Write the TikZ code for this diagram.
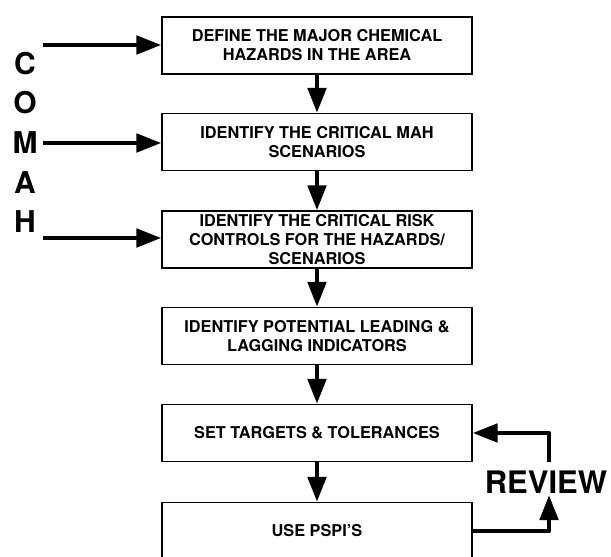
\documentclass[tikz,border=0pt]{standalone}
\usepackage{fontspec}
\setmainfont{TeX Gyre Heros}
\usepackage{tikz}
\usetikzlibrary{positioning,calc}
\usetikzlibrary{arrows.meta}
\tikzstyle{stage} = [rectangle, minimum width=310pt, minimum height=57pt, text centered, align=center, draw=black, line width=1.2pt, font=\fontsize{16.3}{19}\selectfont\bfseries]
\tikzstyle{letter} = [inner sep=0pt, font=\fontsize{30}{30}\selectfont\bfseries]
\tikzstyle{arrow} = [line width=4.8pt, line join=round, -{Triangle[length=25pt,width=18pt]}]

\begin{document}
\begin{tikzpicture}[x=1pt,y=-1pt]
							\clip (0,0) rectangle (611,557);
							\node (define) at (317,45.5) [stage] {DEFINE THE MAJOR CHEMICAL\\HAZARDS IN THE AREA};
							\node (scen) at (317,142) [stage] {IDENTIFY THE CRITICAL MAH\\SCENARIOS};
							\node (controls) at (317,239.5) [stage] {IDENTIFY THE CRITICAL RISK\\CONTROLS FOR THE HAZARDS/\\SCENARIOS};
							\node (indic) at (317,336) [stage] {IDENTIFY POTENTIAL LEADING \&\\LAGGING INDICATORS};
							\node (targets) at (317,433) [stage] {SET TARGETS \& TOLERANCES};
							\node (use) at (317,531) [stage] {USE PSPI'S};
							\draw[arrow] (define) -- (scen);
							\draw[arrow] (scen) -- (controls);
							\draw[arrow] (controls) -- (indic);
							\draw[arrow] (indic) -- (targets);
							\draw[arrow] (targets) -- (use);
							% COMAH down the left side
							\node (lc) at (25,64) [letter] {C};
							\node (lo) at (25,103) [letter] {O};
							\node (lm) at (25,143) [letter] {M};
							\node (la) at (25,183) [letter] {A};
							\node (lh) at (25,222) [letter] {H};
							\coordinate (in1) at (43,45);
							\coordinate (in2) at (43,143);
							\coordinate (in3) at (43,238);
							\draw[arrow] (in1) -- (in1 -| define.west);
							\draw[arrow] (in2) -- (in2 -| scen.west);
							\draw[arrow] (in3) -- (in3 -| controls.west);
							% review loop
							\node[inner sep=0pt, font=\fontsize{31}{31}\selectfont\bfseries] (review) at (546,482) {REVIEW};
							\coordinate (rtip) at (549,495);
							\coordinate (rtop) at (549,462);
							\draw[arrow] (use.east) -| (rtip);
							\draw[arrow] (rtop) |- (targets.east);
						\end{tikzpicture}
\end{document}
